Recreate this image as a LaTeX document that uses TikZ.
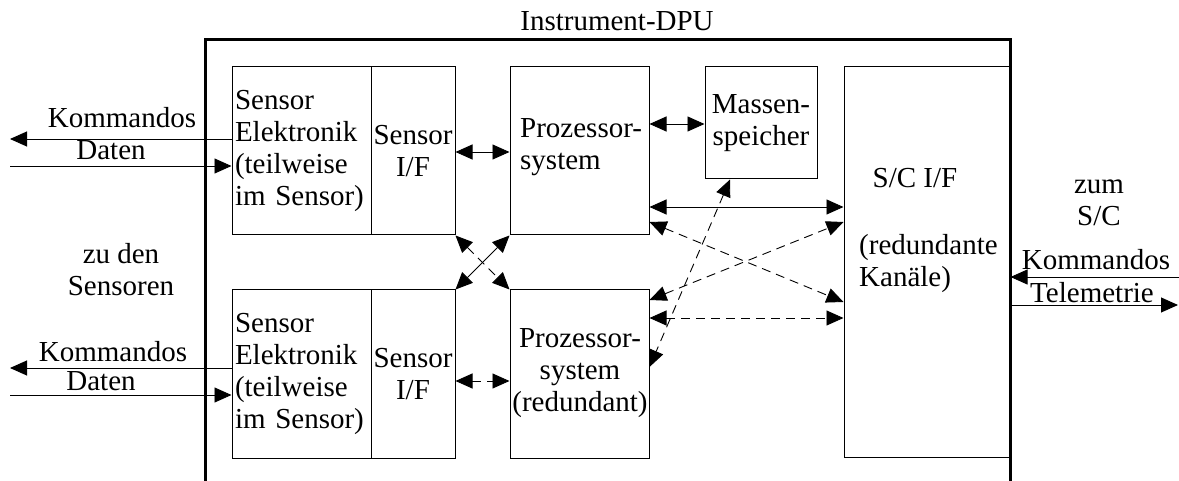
\documentclass[tikz,border=0pt]{standalone}
\usepackage{fontspec}
\setmainfont{Liberation Serif}
\usetikzlibrary{arrows.meta}
\newcommand\diafont{\fontsize{29}{32}\selectfont}
\begin{document}
\begin{tikzpicture}[x=1pt,y=-1pt,
  box/.style={draw, line width=1pt, inner sep=0pt, font=\diafont},
  lbl/.style={inner sep=0pt, font=\diafont},
  con/.style={line width=0.9pt, {Triangle[length=17pt,width=15pt]}-{Triangle[length=17pt,width=15pt]}},
  oneway/.style={line width=0.9pt, -{Triangle[length=17pt,width=15pt]}},
  dsh/.style={dash pattern=on 9pt off 6pt}
]
\useasboundingbox (0,0) rectangle (1179,481);
% boxes
\node[box, minimum width=139, minimum height=168, text width=133, align=left] (se1) at (301.5,151) {Sensor\\Elektronik\\(teilweise\\im Sensor)};
\node[box, minimum width=84, minimum height=168, align=center] (sif1) at (413,151) {Sensor\\I/F};
\node[box, minimum width=139, minimum height=168] (p1) at (579.5,151) {};
\node[lbl, anchor=west, align=left] (p1t) at (520,147.5) {Prozessor-\\system};
\node[box, minimum width=112, minimum height=112, align=center] (m) at (761,123) {Massen-\\speicher};
\node[box, minimum width=166, minimum height=390] (sc) at (927,262) {};
\node[lbl, anchor=base] (sct) at (915,188) {S/C I/F};
\node[lbl, anchor=west, align=left] (sct2) at (859,264) {(redundante\\Kanäle)};
\node[box, minimum width=139, minimum height=168, text width=133, align=left] (se2) at (301.5,374) {Sensor\\Elektronik\\(teilweise\\im Sensor)};
\node[box, minimum width=84, minimum height=168, align=center] (sif2) at (413,374) {Sensor\\I/F};
\node[box, minimum width=139, minimum height=168] (p2) at (579.5,374) {};
\node[lbl, align=center] (p2t) at (580,373.5) {Prozessor-\\system\\(redundant)};
% internal connectors
\draw[con] (sif1.east |- 0,152) -- (p1.west |- 0,152);
\draw[con,dsh] (sif2.east |- 0,381) -- (p2.west |- 0,381);
\draw[con,dsh] (sif1.south east) -- (p2.north west);
\draw[con] (sif2.north east) -- (p1.south west);
\draw[con] (p1.east |- 0,124) -- (m.west |- 0,124);
\draw[con] (p1.east |- 0,207) -- (sc.west |- 0,207);
\draw[con,dsh] (p1.east |- 0,222) -- (sc.west |- 0,302);
\draw[con,dsh] (p2.east |- 0,300) -- (sc.west |- 0,222);
\draw[con,dsh] (p2.east |- 0,318) -- (sc.west |- 0,318);
\draw[con,dsh] ([xshift=-31pt]m.south) -- (p2.east |- 0,367);
% external connectors
\coordinate (l1) at (10,139);
\coordinate (l2) at (10,166);
\coordinate (l3) at (10,368);
\coordinate (l4) at (10,395);
\coordinate (r1) at (1179,277);
\coordinate (r2) at (1178,305);
\draw[oneway] (se1.west |- l1) -- (l1);
\draw[oneway] (l2) -- (se1.west |- l2);
\draw[oneway] (se2.west |- l3) -- (l3);
\draw[oneway] (l4) -- (se2.west |- l4);
\draw[oneway] (r1) -- (sc.east |- r1);
\draw[oneway] (sc.east |- r2) -- (r2);
% DPU frame
\draw[line width=3pt] (205,481) -- (205,40) -- (1010,40) -- (1010,481);
% labels
\node[lbl, anchor=base] (dpu) at (617,31) {Instrument-DPU};
\node[lbl, anchor=base] (k1) at (122,128) {Kommandos};
\node[lbl, anchor=base] (d1) at (111,160) {Daten};
\node[lbl, anchor=base] (k2) at (113,362) {Kommandos};
\node[lbl, anchor=base] (d2) at (101,390) {Daten};
\node[lbl, align=center] (zu) at (121,270) {zu den\\Sensoren};
\node[lbl, align=center] (zum) at (1099,203) {zum\\S/C};
\node[lbl, anchor=base] (k3) at (1096,270) {Kommandos};
\node[lbl, anchor=base] (t3) at (1092,302) {Telemetrie};
\end{tikzpicture}
\end{document}
